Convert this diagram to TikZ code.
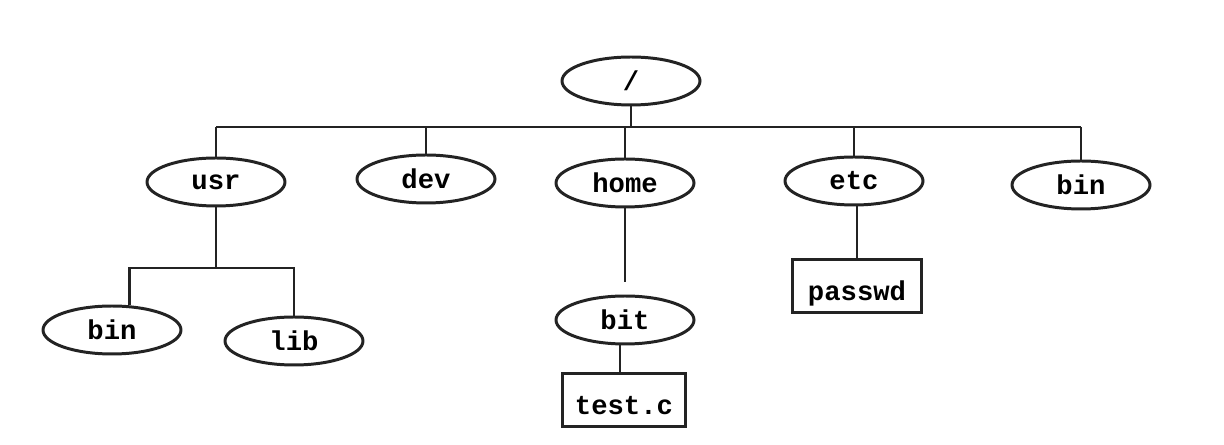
\documentclass[tikz,border=0pt]{standalone}
\usepackage{fontspec}
\usepackage{tikz}
\usetikzlibrary{shapes.geometric}
\setmainfont{Liberation Mono}
\definecolor{treeline}{RGB}{35,35,35}
\tikzset{
  dirnode/.style={ellipse, draw=treeline, line width=1.7pt, fill=white,
    minimum width=2.76cm, minimum height=0.96cm, inner sep=0pt,
    font=\fontsize{15.5}{18}\selectfont\bfseries},
  filenode/.style={rectangle, draw=treeline, line width=1.6pt, fill=white,
    minimum height=1.06cm, inner sep=0pt, text height=17pt, text depth=0pt,
    font=\fontsize{15.5}{18}\selectfont\bfseries},
  link/.style={draw=treeline, line width=1.6pt}
}
\begin{document}
\begin{tikzpicture}[x=0.02cm, y=-0.02cm]
\useasboundingbox (0,0) rectangle (1224,445);
% directories
\node[dirnode] (root) at (631,81) {/};
\node[dirnode] (usr) at (216,182) {usr};
\node[dirnode] (dev) at (426,179) {dev};
\node[dirnode] (home) at (625,183) {home};
\node[dirnode] (etc) at (854,181) {etc};
\node[dirnode] (binr) at (1081,185) {bin};
\node[dirnode] (binl) at (112,330) {bin};
\node[dirnode] (lib) at (294,341) {lib};
\node[dirnode] (bit) at (625,320) {bit};
% files
\node[filenode, minimum width=2.46cm] (test) at (624,400) {test.c};
\node[filenode, minimum width=2.58cm] (passwd) at (857,286) {passwd};
% bus lines
\coordinate (bus) at (0,127);
\coordinate (sub) at (0,268);
\draw[link] (root) -- (root |- bus);
\draw[link] (usr |- bus) -- (binr |- bus);
\foreach \n in {usr,dev,home,etc,binr}
  \draw[link] (\n) -- (\n |- bus);
\draw[link] (usr) -- (usr |- sub);
\draw[link] ([xshift=0.35cm]binl.north) -- ([xshift=0.35cm]binl.north |- sub) -- (lib |- sub) -- (lib);
\draw[link] (home) -- ([yshift=0.25cm]bit.north);
\draw[link] ([xshift=-0.1cm]bit.south) -- ([xshift=-0.1cm]bit.south |- test.north);
\draw[link] (etc.south -| passwd) -- (passwd);
\end{tikzpicture}
\end{document}
